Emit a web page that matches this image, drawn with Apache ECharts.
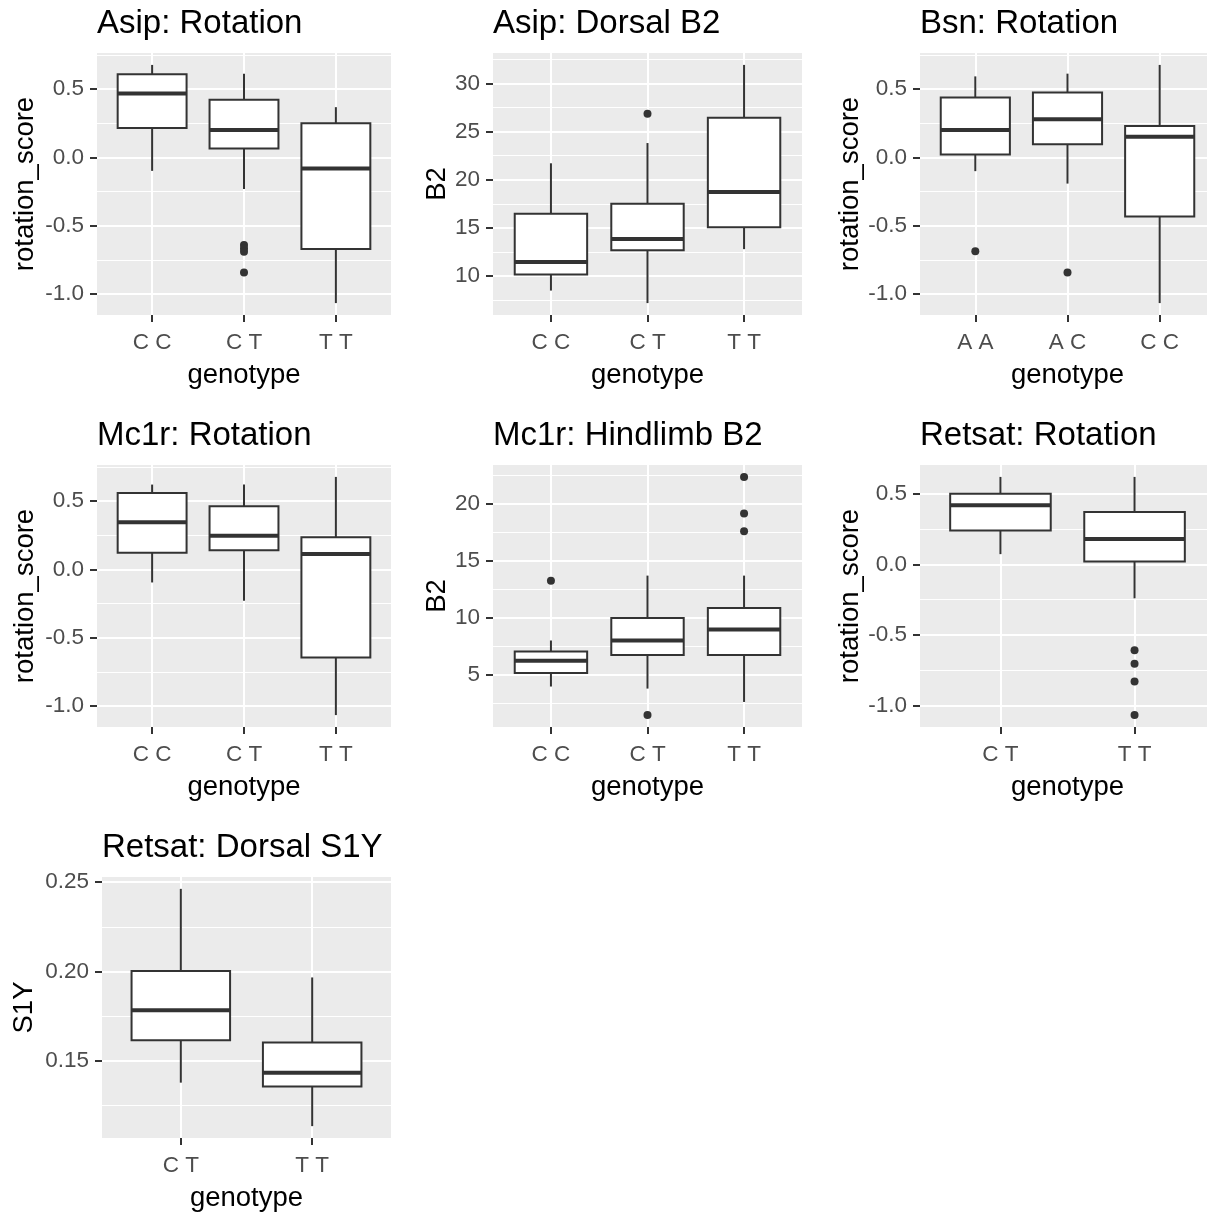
<!DOCTYPE html>
<html><head><meta charset="utf-8">
<script src="https://cdn.jsdelivr.net/npm/echarts@6/dist/echarts.min.js"></script>
<style>html,body{margin:0;padding:0;background:#fff}#chart{width:1207px;height:1216px}</style>
</head><body><div id="chart"></div>
<script>
// ---------------- data ----------------
const rotationTicks = [-1.0, -0.5, 0.0, 0.5];
const asipB2Ticks = [10, 15, 20, 25, 30];
const mc1rB2Ticks = [5, 10, 15, 20];
const s1yTicks = [0.15, 0.20, 0.25];

const genotypesCT = ["C C", "C T", "T T"];
const genotypesBsn = ["A A", "A C", "C C"];
const genotypesRetsat = ["C T", "T T"];

// each box: [lower whisker, Q1, median, Q3, upper whisker]
const asipRotationBoxes = [
  [-0.098, 0.216, 0.468, 0.608, 0.677],
  [-0.230, 0.066, 0.201, 0.422, 0.613],
  [-1.065, -0.669, -0.081, 0.250, 0.368]
];
// outliers: [genotype index, value]
const asipRotationOutliers = [[1, -0.640], [1, -0.665], [1, -0.690], [1, -0.841]];

const asipB2Boxes = [
  [8.50, 10.17, 11.47, 16.47, 21.71],
  [7.20, 12.69, 13.85, 17.52, 23.81],
  [12.80, 15.07, 18.74, 26.43, 31.92]
];
const asipB2Outliers = [[1, 26.85]];

const bsnRotationBoxes = [
  [-0.100, 0.022, 0.201, 0.439, 0.593],
  [-0.191, 0.096, 0.279, 0.475, 0.613],
  [-1.065, -0.431, 0.152, 0.230, 0.677]
];
const bsnRotationOutliers = [[0, -0.686], [1, -0.841]];

const mc1rRotationBoxes = [
  [-0.095, 0.123, 0.345, 0.559, 0.621],
  [-0.228, 0.140, 0.246, 0.463, 0.621],
  [-1.065, -0.643, 0.113, 0.236, 0.677]
];
const mc1rRotationOutliers = [];

const mc1rB2Boxes = [
  [4.00, 5.18, 6.26, 7.06, 8.03],
  [3.82, 6.76, 8.03, 10.00, 13.71],
  [2.65, 6.76, 9.00, 10.88, 13.71]
];
const mc1rB2Outliers = [[0, 13.26], [1, 1.50], [2, 17.59], [2, 19.15], [2, 22.35]];

const retsatRotationBoxes = [
  [0.073, 0.241, 0.419, 0.500, 0.620],
  [-0.240, 0.021, 0.180, 0.372, 0.620]
];
const retsatRotationOutliers = [[1, -0.608], [1, -0.703], [1, -0.829], [1, -1.067]];

const retsatS1YBoxes = [
  [0.1379, 0.1616, 0.1784, 0.2003, 0.2462],
  [0.1136, 0.1358, 0.1435, 0.1603, 0.1967]
];
const retsatS1YOutliers = [];

// ---------------- panels ----------------
const panels = [
  {title: "Asip: Rotation", yName: "rotation_score", cats: genotypesCT, boxes: asipRotationBoxes, outliers: asipRotationOutliers, ticks: rotationTicks, step: 0.5, dec: 1},
  {title: "Asip: Dorsal B2", yName: "B2", cats: genotypesCT, boxes: asipB2Boxes, outliers: asipB2Outliers, ticks: asipB2Ticks, step: 5, dec: 0},
  {title: "Bsn: Rotation", yName: "rotation_score", cats: genotypesBsn, boxes: bsnRotationBoxes, outliers: bsnRotationOutliers, ticks: rotationTicks, step: 0.5, dec: 1},
  {title: "Mc1r: Rotation", yName: "rotation_score", cats: genotypesCT, boxes: mc1rRotationBoxes, outliers: mc1rRotationOutliers, ticks: rotationTicks, step: 0.5, dec: 1},
  {title: "Mc1r: Hindlimb B2", yName: "B2", cats: genotypesCT, boxes: mc1rB2Boxes, outliers: mc1rB2Outliers, ticks: mc1rB2Ticks, step: 5, dec: 0},
  {title: "Retsat: Rotation", yName: "rotation_score", cats: genotypesRetsat, boxes: retsatRotationBoxes, outliers: retsatRotationOutliers, ticks: rotationTicks, step: 0.5, dec: 1},
  {title: "Retsat: Dorsal S1Y", yName: "S1Y", cats: genotypesRetsat, boxes: retsatS1YBoxes, outliers: retsatS1YOutliers, ticks: s1yTicks, step: 0.05, dec: 2}
];

// layout (pixels) for each panel
const layout = [
  {left: 97,  top: 53,  width: 294, height: 262, yGap: 57.5},
  {left: 493, top: 53,  width: 309, height: 262, yGap: 42},
  {left: 920, top: 53,  width: 295, height: 262, yGap: 56},
  {left: 97,  top: 465, width: 294, height: 262, yGap: 57.5},
  {left: 493, top: 465, width: 309, height: 262, yGap: 42},
  {left: 920, top: 465, width: 295, height: 262, yGap: 56},
  {left: 102, top: 877, width: 289, height: 261, yGap: 64}
];

const FONT = "'Liberation Sans', Arial, Helvetica, sans-serif";
const TITLE_SIZE = 33, AXIS_TITLE_SIZE = 27.5, TICK_SIZE = 22.5;
const BOX_WIDTH = 0.75;
const INK = '#333333';

function renderBox(params, api) {
  const x = api.value(0);
  const lo = api.coord([x, api.value(1)]);
  const q1 = api.coord([x, api.value(2)]);
  const md = api.coord([x, api.value(3)]);
  const q3 = api.coord([x, api.value(4)]);
  const hi = api.coord([x, api.value(5)]);
  const half = api.size([BOX_WIDTH, 0])[0] / 2;
  const line = {stroke: INK, lineWidth: 2};
  return {
    type: 'group',
    children: [
      {type: 'line', shape: {x1: hi[0], y1: hi[1], x2: q3[0], y2: q3[1]}, style: line},
      {type: 'line', shape: {x1: q1[0], y1: q1[1], x2: lo[0], y2: lo[1]}, style: line},
      {type: 'rect', shape: {x: q3[0] - half, y: q3[1], width: 2 * half, height: q1[1] - q3[1]},
       style: {fill: '#ffffff', stroke: INK, lineWidth: 2}},
      {type: 'line', shape: {x1: md[0] - half, y1: md[1], x2: md[0] + half, y2: md[1]},
       style: {stroke: INK, lineWidth: 4}}
    ]
  };
}

const option = {animation: false, title: [], grid: [], xAxis: [], yAxis: [], series: []};

panels.forEach((p, i) => {
  const L = layout[i];
  // y range with ggplot's 5% expansion of the data range
  let vals = [];
  p.boxes.forEach(b => { vals.push(b[0], b[4]); });
  p.outliers.forEach(o => vals.push(o[1]));
  const dmin = Math.min(...vals), dmax = Math.max(...vals);
  const pad = (dmax - dmin) * 0.05;
  const n = p.cats.length;
  const catIdx = p.cats.map((c, k) => k);

  option.title.push({
    text: p.title, left: L.left, top: L.top - 46, padding: 0,
    textStyle: {fontFamily: FONT, fontSize: TITLE_SIZE, fontWeight: 'normal', color: '#000', lineHeight: TITLE_SIZE}
  });
  option.grid.push({
    left: L.left, top: L.top, width: L.width, height: L.height,
    show: true, backgroundColor: '#EBEBEB', borderWidth: 0,
    containLabel: false, outerBoundsMode: 'none'
  });
  option.xAxis.push({
    type: 'value', gridIndex: i, min: -0.6, max: n - 0.4,
    axisLine: {show: false, onZero: false},
    axisTick: {show: true, length: 7, lineStyle: {color: INK, width: 2}, customValues: catIdx},
    axisLabel: {customValues: catIdx, formatter: v => p.cats[Math.round(v)], color: '#4D4D4D',
                fontFamily: FONT, fontSize: TICK_SIZE, lineHeight: TICK_SIZE, margin: 17},
    splitLine: {show: true, lineStyle: {color: '#ffffff', width: 2}},
    minorSplitLine: {show: false},
    name: 'genotype', nameLocation: 'middle', nameGap: 47, nameMoveOverlap: false,
    nameTextStyle: {fontFamily: FONT, fontSize: AXIS_TITLE_SIZE, color: '#000', lineHeight: AXIS_TITLE_SIZE}
  });
  option.yAxis.push({
    type: 'value', gridIndex: i, min: dmin - pad, max: dmax + pad,
    minInterval: p.step, maxInterval: p.step, splitNumber: 5,
    axisLine: {show: false, onZero: false},
    axisTick: {show: true, length: 7, lineStyle: {color: INK, width: 2}, customValues: p.ticks},
    axisLabel: {customValues: p.ticks, formatter: v => Number(v).toFixed(p.dec), color: '#4D4D4D',
                fontFamily: FONT, fontSize: TICK_SIZE, lineHeight: TICK_SIZE, margin: 13},
    splitLine: {show: true, lineStyle: {color: '#ffffff', width: 2}},
    minorTick: {show: false, splitNumber: 2},
    minorSplitLine: {show: true, lineStyle: {color: '#ffffff', width: 1}},
    name: p.yName, nameLocation: 'middle', nameGap: L.yGap, nameMoveOverlap: false,
    nameTextStyle: {fontFamily: FONT, fontSize: AXIS_TITLE_SIZE, color: '#000', lineHeight: AXIS_TITLE_SIZE}
  });
  option.series.push({
    type: 'custom', xAxisIndex: i, yAxisIndex: i, clip: false,
    renderItem: renderBox,
    encode: {x: 0, y: [1, 2, 3, 4, 5]},
    data: p.boxes.map((b, k) => [k].concat(b)),
    z: 2
  });
  if (p.outliers.length) {
    option.series.push({
      type: 'scatter', xAxisIndex: i, yAxisIndex: i,
      symbol: 'circle', symbolSize: 8,
      itemStyle: {color: INK, opacity: 1},
      data: p.outliers.map(o => [o[0], o[1]]),
      z: 3
    });
  }
});

const chart = echarts.init(document.getElementById('chart'), null, {renderer: 'canvas'});
chart.setOption(option);
</script>
</body></html>
